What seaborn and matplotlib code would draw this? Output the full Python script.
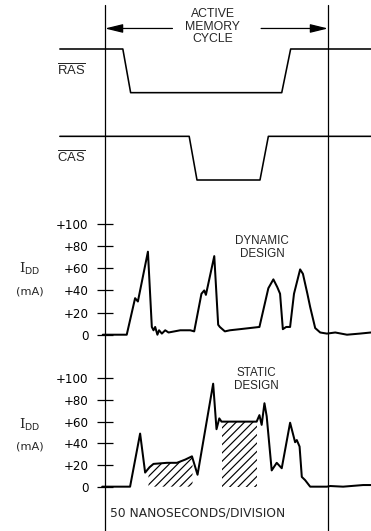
import numpy as np
import pandas as pd
import matplotlib
matplotlib.use("Agg")
import matplotlib.pyplot as plt
import seaborn as sns

# ---- data (time in nanoseconds; the active memory cycle spans 0..400 ns) ----
cycle_start, cycle_end = 0, 400
t_min, t_max = -188.3, 477.1

# strobe waveforms: 1 = high, 0 = low
ras_t = [-81, 32, 46, 317, 333, 477]
ras_v = [1, 1, 0, 0, 1, 1]
cas_t = [-81, 151, 165, 278, 293, 477]
cas_v = [1, 1, 0, 0, 1, 1]

# supply current, dynamic design (mA)
dyn_t = [-4, 39, 54, 59, 77, 84, 87, 90, 94, 97, 102, 108, 114, 135, 153, 160,
         173, 178, 181, 196, 203, 206, 215, 224, 242, 277, 293, 302, 309, 314,
         319, 325, 332, 339, 350, 355, 363, 368, 377, 386, 398, 413, 434, 457, 477]
dyn_i = [0, 0, 33, 30, 75, 7, 4, 7, 0, 4, 1, 4, 2, 4, 4, 3,
         37, 40, 36, 71, 9, 7, 3, 4, 5, 7, 42, 50, 43, 37,
         5, 7, 7, 37, 59, 55, 37, 25, 6, 2, 1, 2, 0, 1, 2]

# supply current, static design (mA)
sta_t = [-5, 45, 63, 72, 80, 87, 111, 129, 144, 156, 166, 194, 200, 205, 209,
         272, 277, 281, 286, 290, 299, 308, 317, 332, 341, 344, 349, 353, 359,
         368, 398, 404, 427, 463, 477]
sta_i = [0, 0, 49, 13, 18, 21, 22, 22, 25, 28, 11, 95, 53, 63, 60,
         60, 66, 57, 77, 65, 15, 22, 17, 59, 41, 43, 37, 9, 6,
         0, 0, 0.6, 0, 1.5, 1.5]

hatch_spans = [(78, 157), (209, 272)]
idd_ticks = [0, 20, 40, 60, 80, 100]
idd_tick_labels = ["0", "+20", "+40", "+60", "+80", "+100"]

# ---- style ----
sns.set_theme(style="white")
plt.rcParams["font.family"] = ["Liberation Sans", "DejaVu Sans"]
plt.rcParams["mathtext.fontset"] = "custom"
plt.rcParams["mathtext.rm"] = "Liberation Sans"
plt.rcParams["mathtext.sf"] = "DejaVu Sans"
plt.rcParams["hatch.linewidth"] = 0.85

W, H = 371, 531
fig = plt.figure(figsize=(W / 100, H / 100), dpi=100)
fig.patch.set_facecolor("white")


def frac(top_px, bottom_px):
    return [0, (H - bottom_px) / H, 1, (bottom_px - top_px) / H]


# background axes carrying the two cycle boundary lines
bg = fig.add_axes([0, 0, 1, 1])
bg.set_xlim(t_min, t_max)
bg.set_ylim(0, 1)
bg.axis("off")
for tb in (cycle_start, cycle_end):
    bg.axvline(tb, ymin=0, ymax=1 - 5 / H, color="black", lw=0.9)

# ---- timing diagram ----
ax_t = fig.add_axes(frac(0, 200))
ax_t.patch.set_alpha(0)
ax_t.set_xlim(t_min, t_max)
ax_t.set_ylim(-20 / 43.67, 3 + 49 / 43.67)
ax_t.axis("off")

ras_df = pd.DataFrame({"t": ras_t, "level": np.array(ras_v) + 2})
cas_df = pd.DataFrame({"t": cas_t, "level": cas_v})
for df in (ras_df, cas_df):
    sns.lineplot(data=df, x="t", y="level", ax=ax_t, color="black", lw=1.15,
                 estimator=None, sort=False)
ax_t.text(-60, 2.5, r"$\overline{\mathrm{RAS}}$", ha="center", va="center",
          fontsize=9.4)
ax_t.text(-60, 0.5, r"$\overline{\mathrm{CAS}}$", ha="center", va="center",
          fontsize=9.4)

arrow_y = 3.47
ax_t.annotate("", xy=(cycle_start, arrow_y), xytext=(121, arrow_y),
              arrowprops=dict(arrowstyle="-|>,head_length=0.9,head_width=0.22",
                              color="black", lw=0.9, shrinkA=0, shrinkB=0))
ax_t.annotate("", xy=(cycle_end, arrow_y), xytext=(280, arrow_y),
              arrowprops=dict(arrowstyle="-|>,head_length=0.9,head_width=0.22",
                              color="black", lw=0.9, shrinkA=0, shrinkB=0))
ax_t.text(193, 3.515, "ACTIVE\nMEMORY\nCYCLE", ha="center", va="center",
          fontsize=8.8, linespacing=1.05)


def current_panel(rect, ylim, t, i, label_y, title_xy, title):
    ax = fig.add_axes(rect)
    ax.patch.set_alpha(0)
    ax.set_xlim(t_min, t_max)
    ax.set_ylim(*ylim)
    sns.lineplot(x=t, y=i, ax=ax, color="black", lw=1.45, estimator=None,
                 sort=False)
    for s in ax.spines.values():
        s.set_visible(False)
    ax.spines["left"].set_position(("data", cycle_start))
    ax.set_xticks([])
    ax.set_yticks(idd_ticks)
    ax.set_yticklabels(idd_tick_labels, fontfamily="DejaVu Sans", fontsize=8.6)
    ax.tick_params(axis="y", direction="inout", length=12, width=0.9,
                   pad=6, left=True, colors="black")
    ax.set_xlabel("")
    ax.set_ylabel("")
    ax.text(-135, label_y[0], r"I$_{\mathsf{DD}}$", ha="center", va="center",
            fontsize=9.6, fontfamily="DejaVu Serif")
    ax.text(-135, label_y[1], "(mA)", ha="center", va="center", fontsize=8.2,
            fontfamily="DejaVu Sans")
    ax.text(title_xy[0], title_xy[1], title, ha="center", va="center",
            fontsize=8.4, linespacing=1.15)
    return ax


ax_d = current_panel(frac(200, 345), (-9.3, 121.7), dyn_t, dyn_i,
                     (59, 39), (282, 79), "DYNAMIC\nDESIGN")
ax_s = current_panel(frac(345, 531), (-40.9, 130.7), sta_t, sta_i,
                     (57, 37), (271, 99), "STATIC\nDESIGN")

# shaded intervals under the static-design current
for a, b in hatch_spans:
    tt = np.linspace(a, b, 80)
    ax_s.fill_between(tt, 0, np.interp(tt, sta_t, sta_i), facecolor="none",
                      edgecolor="black", hatch="////", linewidth=0)

ax_s.text(167, -24.3, "50 NANOSECONDS/DIVISION", ha="center", va="center",
          fontsize=8.8, fontfamily="DejaVu Sans")

fig.savefig("out.png", dpi=100, facecolor="white")
